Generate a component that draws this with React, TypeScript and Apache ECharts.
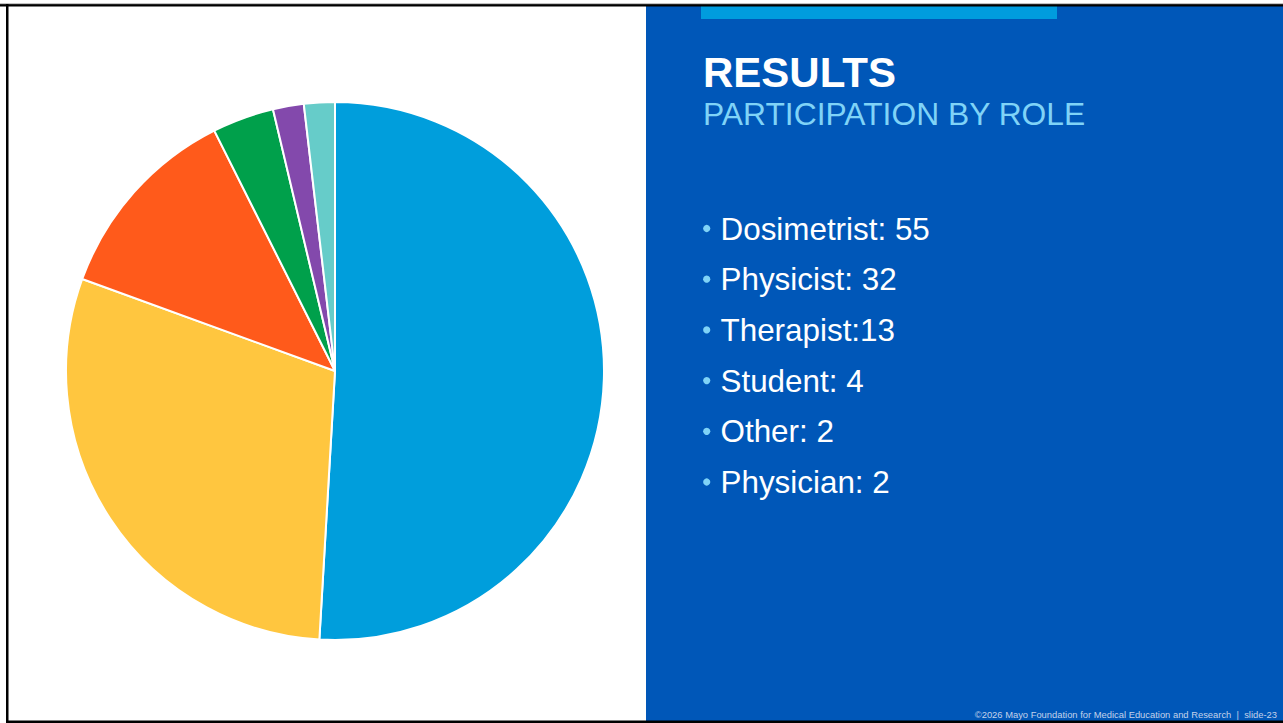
import React, { useEffect, useRef } from "react";
import * as echarts from "echarts";

const roles = ["Dosimetrist", "Physicist", "Therapist", "Student", "Other", "Physician"];
const counts = [55, 32, 13, 4, 2, 2];
const sliceColors = ["#009EDC", "#FFC63F", "#FF5A1B", "#00A04B", "#8349AC", "#66CCC9"];
const bulletLabels = ["Dosimetrist: 55", "Physicist: 32", "Therapist:13", "Student: 4", "Other: 2", "Physician: 2"];
const titleText = "RESULTS";
const subtitleText = "PARTICIPATION BY ROLE";
const footerText = "©2026 Mayo Foundation for Medical Education and Research  |  slide-23";

export default function App() {
  const ref = useRef<HTMLDivElement>(null);
  useEffect(() => {
    if (!ref.current) return;
    const chart = echarts.init(ref.current, undefined, { renderer: "svg" });
    const font = "'Liberation Sans', Arial, sans-serif";
    const bulletElems: any[] = [];
    bulletLabels.forEach((t, i) => {
      const cy = 229 + i * 50.7;
      bulletElems.push({
        type: "circle",
        shape: { cx: 706.7, cy: cy - 0.5, r: 3.6 },
        style: { fill: "#7FD3F7" },
        silent: true,
      });
      bulletElems.push({
        type: "text",
        x: 720.5,
        y: cy,
        style: {
          text: t,
          fill: "#FFFFFF",
          font: `31.4px ${font}`,
          textAlign: "left",
          textVerticalAlign: "middle",
        },
        silent: true,
      });
    });
    chart.setOption({
      animation: false,
      backgroundColor: "#FFFFFF",
      graphic: [
        { type: "rect", shape: { x: 646, y: 6, width: 637, height: 715 }, style: { fill: "#0057B8" }, silent: true },
        { type: "rect", shape: { x: 701, y: 6, width: 356, height: 13 }, style: { fill: "#009CDE" }, silent: true },
        { type: "rect", shape: { x: 0, y: 4, width: 1283, height: 2.5 }, style: { fill: "#000000" }, silent: true },
        { type: "rect", shape: { x: 0, y: 3.5, width: 1283, height: 0.8 }, style: { fill: "#888888" }, silent: true },
        { type: "rect", shape: { x: 6, y: 4, width: 2.5, height: 719 }, style: { fill: "#000000" }, silent: true },
        { type: "rect", shape: { x: 6, y: 720.5, width: 1277, height: 2.5 }, style: { fill: "#000000" }, silent: true },
        {
          type: "text",
          x: 703,
          y: 72.3,
          style: { text: titleText, fill: "#FFFFFF", font: `bold 42px ${font}`, textAlign: "left", textVerticalAlign: "middle" },
          silent: true,
        },
        {
          type: "text",
          x: 703,
          y: 114.3,
          style: { text: subtitleText, fill: "#7FD3F7", font: `31.8px ${font}`, textAlign: "left", textVerticalAlign: "middle" },
          silent: true,
        },
        ...bulletElems,
        {
          type: "text",
          x: 1277,
          y: 714.5,
          style: { text: footerText, fill: "#C3D2EA", font: `9.4px ${font}`, textAlign: "right", textVerticalAlign: "middle" },
          silent: true,
        },
      ],
      series: [
        {
          type: "pie",
          center: [335, 371],
          radius: 269,
          startAngle: 90,
          clockwise: true,
          label: { show: false },
          labelLine: { show: false },
          silent: true,
          itemStyle: { borderColor: "#FFFFFF", borderWidth: 2 },
          data: roles.map((r, i) => ({ name: r, value: counts[i], itemStyle: { color: sliceColors[i] } })),
        },
      ],
    });
    return () => chart.dispose();
  }, []);
  return (
    <div
      ref={ref}
      style={{ position: "absolute", left: 0, top: 0, width: 1283, height: 723 }}
    />
  );
}
